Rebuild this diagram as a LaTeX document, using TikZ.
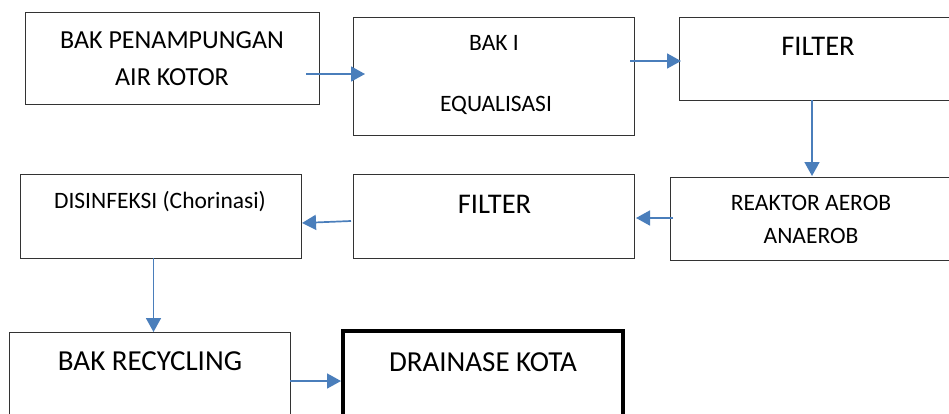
\documentclass[tikz,border=0pt]{standalone}
\usepackage{fontspec}
\setmainfont{Carlito}
\usetikzlibrary{arrows.meta,calc}
\definecolor{arrblue}{HTML}{4A7EBB}
\begin{document}
\begin{tikzpicture}[x=1pt,y=-1pt,
  box/.style={draw=black!80, line width=0.9pt, rectangle, inner sep=0pt, outer sep=0pt},
  thickbox/.style={box, draw=black, line width=4.5pt},
  lbl/.style={anchor=base, inner sep=0pt, text=black},
  fA/.style={font=\fontsize{26}{30}\selectfont},
  fB/.style={font=\fontsize{23.5}{28}\selectfont},
  fC/.style={font=\fontsize{28.5}{34}\selectfont},
  fD/.style={font=\fontsize{29}{34}\selectfont},
  arr/.style={draw=arrblue, line width=1.7pt, -{Triangle[length=14pt,width=15pt]}}]
\useasboundingbox (0,0) rectangle (949,413);
% boxes
\node[box, minimum width=294, minimum height=92] (b1) at (172,58) {};
\node[box, minimum width=281, minimum height=118] (b2) at (493.5,76) {};
\node[box, minimum width=421, minimum height=83] (b3) at (889.5,58.5) {};
\node[box, minimum width=430, minimum height=83] (b4) at (885,218.5) {};
\node[box, minimum width=281, minimum height=84] (b5) at (493.5,216) {};
\node[box, minimum width=281, minimum height=84] (b6) at (160.5,216) {};
\node[box, minimum width=281, minimum height=98] (b7) at (149.5,381) {};
\node[thickbox, minimum width=280, minimum height=99] (b8) at (483,380.5) {};
% labels
\node[lbl, fA] (t1a) at (172,48.3) {BAK PENAMPUNGAN};
\node[lbl, fA] (t1b) at (172,85) {AIR KOTOR};
\node[lbl, fB] (t2a) at (494,50) {BAK I};
\node[lbl, fB] (t2b) at (496,111.7) {EQUALISASI};
\node[lbl, fC] (t3) at (818,55) {FILTER};
\node[lbl, fB] (t4a) at (811,210) {REAKTOR AEROB};
\node[lbl, fB] (t4b) at (811,243.3) {ANAEROB};
\node[lbl, fC] (t5) at (494.5,213) {FILTER};
\node[lbl, fB] (t6) at (160,208.3) {DISINFEKSI (Chorinasi)};
\node[lbl, fD] (t7) at (150,370) {BAK RECYCLING};
\node[lbl, fD] (t8) at (483,371.7) {DRAINASE KOTA};
% arrows
\draw[arr] ($(b1.east)+(-13,16)$) -- ($(b2.west)+(12,-2)$);
\draw[arr] ($(b2.east)+(-4,-15)$) -- ($(b3.west)+(2,2.5)$);
\draw[arr] ($(b3.south west)+(133,0)$) -- ($(b4.north west)+(142,-1)$);
\draw[arr] ($(b4.west)+(3,-0.5)$) -- ($(b5.east)+(2,2)$);
\draw[arr] ($(b5.west)+(-2,5)$) -- ($(b6.east)+(1,7)$);
\draw[arr] ($(b6.south)+(-7,0)$) -- ($(b7.north)+(4,0)$);
\draw[arr] (b7.east) -- ($(b8.west)+(-2,0.5)$);
\end{tikzpicture}
\end{document}
